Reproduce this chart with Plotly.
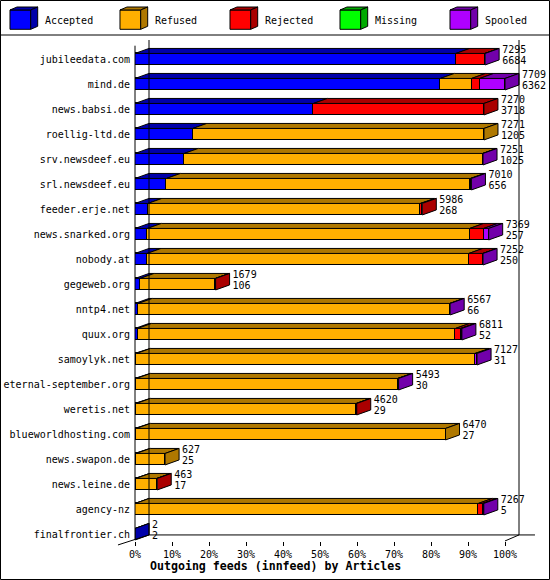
import numpy as np
import plotly.graph_objects as go

# innfeed outgoing feeds, articles per peer
hosts = ["jubileedata.com", "mind.de", "news.babsi.de", "roellig-ltd.de",
         "srv.newsdeef.eu", "srl.newsdeef.eu", "feeder.erje.net", "news.snarked.org",
         "nobody.at", "gegeweb.org", "nntp4.net", "quux.org", "samoylyk.net",
         "eternal-september.org", "weretis.net", "blueworldhosting.com",
         "news.swapon.de", "news.leine.de", "agency-nz", "finalfrontier.ch"]
total = [7295, 7709, 7270, 7271, 7251, 7010, 5986, 7369, 7252, 1679,
         6567, 6811, 7127, 5493, 4620, 6470, 627, 463, 7267, 2]
accepted = [6684, 6362, 3718, 1205, 1025, 656, 268, 257, 250, 106,
            66, 52, 31, 30, 29, 27, 25, 17, 5, 2]
refused = [0, 650, 0, 6066, 6220, 6334, 5678, 6716, 6706, 1568,
           6491, 6625, 7056, 5443, 4581, 6443, 602, 436, 7148, 0]
rejected = [606, 170, 3552, 0, 0, 0, 40, 292, 292, 5,
            0, 110, 0, 0, 10, 0, 0, 10, 90, 0]
missing = [0] * 20
spooled = [5, 527, 0, 0, 6, 20, 0, 104, 4, 0,
           10, 24, 40, 20, 0, 0, 0, 0, 24, 0]
tick_pcts = [0, 10, 20, 30, 40, 50, 60, 70, 80, 90, 100]

names = ["Accepted", "Refused", "Rejected", "Missing", "Spooled"]
series = [accepted, refused, rejected, missing, spooled]
front_col = ["#0000FF", "#FFAF00", "#FF0000", "#00FF00", "#AF00FF"]
dark_col = ["#0000AA", "#AF7800", "#AA0000", "#00AA00", "#7200AA"]

# layout geometry (pixels)
W, H = 550, 580
L, R, T, B = 135, 8, 34, 39
XR = [0, 110]
YR = [19.272, -1.008]
pw, ph = W - L - R, H - T - B
ppx = pw / (XR[1] - XR[0])
ppy = ph / abs(YR[0] - YR[1])
DX = 14 / ppx   # depth of the 3d effect in data units
DY = 5 / ppy
BW = 0.46


def xp(x):  # data x -> paper
    return (x - XR[0]) / (XR[1] - XR[0])


def yp(y):  # data y -> paper (reversed axis)
    return (y - YR[0]) / (YR[1] - YR[0])


def pxp(px):  # absolute pixel -> paper
    return (px - L) / pw


def pyp(py):
    return (T + ph - py) / ph


vals = np.array(series, dtype=float)
scale = 100.0 / max(total)
pct = vals * scale
ends = np.cumsum(pct, axis=0)
starts = ends - pct
idx = np.arange(len(hosts))

fig = go.Figure()

for k, name in enumerate(names):
    fig.add_trace(go.Bar(
        x=pct[k], y=idx, orientation="h", name=name, width=BW,
        marker=dict(color=front_col[k], line=dict(color="black", width=1)),
        hoverinfo="x+y+name",
    ))

# top faces
for k in range(len(names)):
    xs, ys = [], []
    for i in idx:
        if pct[k][i] <= 0:
            continue
        a, b = starts[k][i], ends[k][i]
        top = i - BW / 2
        xs += [a, a + DX, b + DX, b, a, None]
        ys += [top, top - DY, top - DY, top, top, None]
    if xs:
        fig.add_trace(go.Scatter(x=xs, y=ys, mode="lines", fill="toself",
                                 fillcolor=dark_col[k], line=dict(color="black", width=1),
                                 hoverinfo="skip", showlegend=False))

# side faces, coloured by the last segment of each bar
for k in range(len(names)):
    xs, ys = [], []
    for i in idx:
        nz = [j for j in range(len(names)) if vals[j][i] > 0]
        if not nz or nz[-1] != k:
            continue
        e = ends[-1][i]
        top, bot = i - BW / 2, i + BW / 2
        xs += [e, e + DX, e + DX, e, e, None]
        ys += [top, top - DY, bot - DY, bot, top, None]
    if xs:
        fig.add_trace(go.Scatter(x=xs, y=ys, mode="lines", fill="toself",
                                 fillcolor=dark_col[k], line=dict(color="black", width=1),
                                 hoverinfo="skip", showlegend=False))

# value labels: offered on top, accepted below
lab_x = ends[-1] + DX + 3 / ppx
fig.add_trace(go.Scatter(x=lab_x, y=idx - 0.34, mode="text", text=[str(t) for t in total],
                         textposition="middle right", cliponaxis=False, showlegend=False,
                         textfont=dict(family="DejaVu Sans Mono", size=10, color="black"),
                         hoverinfo="skip"))
fig.add_trace(go.Scatter(x=lab_x, y=idx + 0.09, mode="text", text=[str(a) for a in accepted],
                         textposition="middle right", cliponaxis=False, showlegend=False,
                         textfont=dict(family="DejaVu Sans Mono", size=10, color="black"),
                         hoverinfo="skip"))

# 3d frame
line = dict(color="black", width=1)
y_top_back = -0.768
y_top_front = -0.54
y_floor_back = 19.03
y_floor_front = 19.23
shapes = [
    dict(type="line", x0=xp(0), x1=xp(0), y0=yp(y_top_front), y1=yp(y_floor_front)),
    dict(type="line", x0=xp(DX), x1=xp(DX), y0=yp(y_top_back), y1=yp(y_floor_back)),
    dict(type="line", x0=xp(100 + DX), x1=xp(100 + DX), y0=yp(y_top_back), y1=yp(y_floor_back)),
    dict(type="line", x0=xp(DX), x1=xp(108.1), y0=yp(y_floor_back), y1=yp(y_floor_back)),
    dict(type="line", x0=xp(-4.6), x1=xp(DX), y0=yp(19.43), y1=yp(y_floor_back)),
    dict(type="line", x0=xp(100), x1=xp(100 + DX), y0=yp(y_floor_front + 0.04), y1=yp(y_floor_back)),
    # legend box and outer border
    dict(type="line", x0=pxp(0), x1=pxp(W), y0=pyp(35), y1=pyp(35)),
    dict(type="rect", x0=pxp(0.5), x1=pxp(W - 0.5), y0=pyp(0.5), y1=pyp(H - 0.5)),
]
for s in shapes:
    s.update(xref="paper", yref="paper", line=line, layer="above")

# legend with little cubes
annotations = []
for k, name in enumerate(names):
    x0 = 10 + 110 * k
    fx0, fx1, fy0, fy1 = x0, x0 + 20.7, 10, 29.3
    d, e = 7, 3

    def path(pts):
        return "M " + " L ".join(f"{pxp(a):.5f},{pyp(b):.5f}" for a, b in pts) + " Z"

    shapes.append(dict(type="path", xref="paper", yref="paper", fillcolor=front_col[k],
                       line=line, path=path([(fx0, fy0), (fx1, fy0), (fx1, fy1), (fx0, fy1)])))
    shapes.append(dict(type="path", xref="paper", yref="paper", fillcolor=dark_col[k],
                       line=line, path=path([(fx0, fy0), (fx0 + d, fy0 - e), (fx1 + d, fy0 - e), (fx1, fy0)])))
    shapes.append(dict(type="path", xref="paper", yref="paper", fillcolor=dark_col[k],
                       line=line, path=path([(fx1, fy0), (fx1 + d, fy0 - e), (fx1 + d, fy1 - e), (fx1, fy1)])))
    annotations.append(dict(text=name, xref="paper", yref="paper", x=pxp(43 + 110 * k), y=pyp(20.5),
                            xanchor="left", yanchor="middle", showarrow=False,
                            font=dict(family="DejaVu Sans Mono", size=10, color="black")))

# axis title, centred on the whole image like the original
annotations.append(dict(text="<b>Outgoing feeds (innfeed) by Articles</b>", xref="paper", yref="paper",
                        x=pxp(W / 2), y=pyp(566), xanchor="center", yanchor="middle", showarrow=False,
                        font=dict(family="DejaVu Sans Mono", size=11.6, color="black")))

fig.update_layout(
    width=W, height=H,
    margin=dict(l=L, r=R, t=T, b=B, pad=0),
    barmode="stack", bargap=0,
    showlegend=False,
    paper_bgcolor="white", plot_bgcolor="white",
    font=dict(family="DejaVu Sans Mono", size=10, color="black"),
    shapes=shapes, annotations=annotations,
    xaxis=dict(range=XR, tickvals=tick_pcts, ticktext=[f"{t}%" for t in tick_pcts],
               ticks="outside", ticklen=4, tickcolor="black", showgrid=False,
               zeroline=False, showline=False, automargin=False),
    yaxis=dict(range=YR, tickvals=idx, ticktext=hosts, ticks="", showgrid=False,
               zeroline=False, showline=False, automargin=False, ticklabelstandoff=4),
)

# page body has a default 8px margin; drop it so the figure sits at the corner
fig.write_html("out.html", config={"displayModeBar": False},
               post_script="document.body.style.margin='0';")
